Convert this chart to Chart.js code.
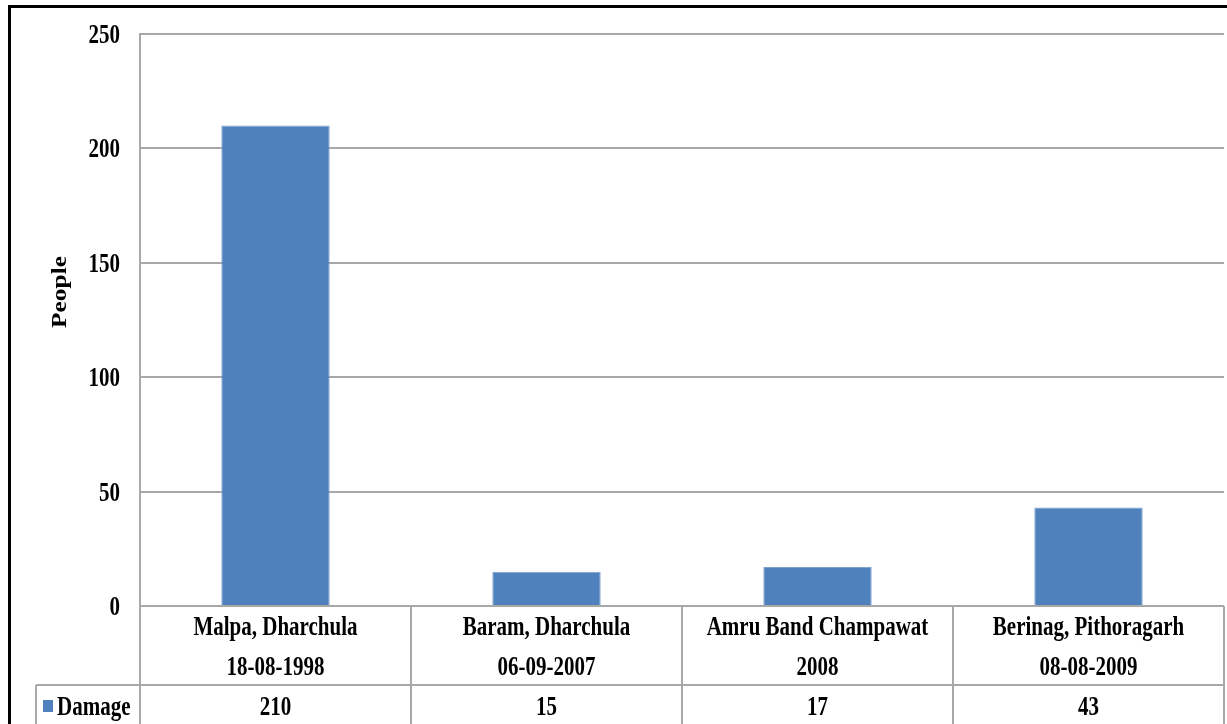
<!DOCTYPE html>
<html>
<head>
<meta charset="utf-8">
<script src="https://cdn.jsdelivr.net/npm/chart.js@4.4.0/dist/chart.umd.min.js"></script>
<style>
    body { margin: 0; background: #fff; }
    canvas { display: block; }
</style>
</head>
<body>
<canvas id="damageChart" width="1227" height="724"></canvas>
<script>
// Chart data
const places = ['Malpa, Dharchula', 'Baram, Dharchula', 'Amru Band Champawat', 'Berinag, Pithoragarh'];
const eventDates = ['18-08-1998', '06-09-2007', '2008', '08-08-2009'];
const damage = [210, 15, 17, 43];
const seriesName = 'Damage';
const axisTitle = 'People';
const yMax = 250;
const yStep = 50;

const BAR_COLOR = '#4F81BD';
const GRID_COLOR = '#a8a8a8';
const FONT = 'bold 21px "Liberation Serif", "Times New Roman", serif';
const STRETCH = 1.27; // the original picture is stretched vertically

// draw text squeezed the same way as the source image
function drawText(ctx, text, x, y, align) {
    ctx.save();
    ctx.translate(x, y);
    ctx.scale(1, STRETCH);
    ctx.textAlign = align;
    ctx.textBaseline = 'alphabetic';
    ctx.fillText(text, 0, 0);
    ctx.restore();
}

// Data table, axis labels and frame
const tablePlugin = {
    id: 'dataTable',
    afterDraw(chart) {
        const ctx = chart.ctx;
        const xScale = chart.scales.x;
        const yScale = chart.scales.y;
        const area = chart.chartArea;
        const rowSplit = 685;
        const bottom = chart.height;

        ctx.save();
        ctx.font = FONT;
        ctx.fillStyle = '#000';

        // y tick labels
        yScale.ticks.forEach(tick => {
            const y = yScale.getPixelForValue(tick.value);
            drawText(ctx, String(tick.value), 120, y + 9, 'right');
        });

        // y axis title
        ctx.save();
        ctx.translate(66, 292);
        ctx.scale(1, STRETCH);
        ctx.rotate(-Math.PI / 2);
        ctx.font = 'bold 20px "Liberation Serif", "Times New Roman", serif';
        ctx.textAlign = 'center';
        ctx.textBaseline = 'alphabetic';
        ctx.fillText(axisTitle, 0, 0);
        ctx.restore();

        // table grid
        ctx.strokeStyle = GRID_COLOR;
        ctx.lineWidth = 2;
        const step = xScale.getPixelForValue(1) - xScale.getPixelForValue(0);
        ctx.beginPath();
        for (let i = 0; i <= places.length; i++) {
            const x = xScale.getPixelForValue(i) - step / 2;
            ctx.moveTo(x, area.bottom);
            ctx.lineTo(x, bottom);
        }
        ctx.moveTo(36, rowSplit);
        ctx.lineTo(area.right, rowSplit);
        ctx.moveTo(36, rowSplit);
        ctx.lineTo(36, bottom);
        ctx.stroke();

        // category labels and values
        places.forEach((place, i) => {
            const x = xScale.getPixelForValue(i);
            drawText(ctx, place, x, 635, 'center');
            drawText(ctx, eventDates[i], x, 675, 'center');
            drawText(ctx, String(damage[i]), x, 715, 'center');
        });

        // legend key
        ctx.fillStyle = BAR_COLOR;
        ctx.fillRect(43, 700, 10, 12);
        ctx.fillStyle = '#000';
        drawText(ctx, seriesName, 57, 715, 'left');

        // outer frame
        ctx.fillRect(8, 5, 3, bottom - 5);
        ctx.fillRect(8, 5, chart.width - 8, 3);
        ctx.restore();
    }
};

const ctx = document.getElementById('damageChart').getContext('2d');
new Chart(ctx, {
    type: 'bar',
    data: {
        labels: places,
        datasets: [{
            label: seriesName,
            data: damage,
            backgroundColor: BAR_COLOR,
            borderColor: '#7ea2cf',
            borderWidth: 1,
            barPercentage: 0.4,
            categoryPercentage: 1
        }]
    },
    options: {
        responsive: false,
        animation: false,
        layout: {
            padding: { left: 0, top: 34, right: 3, bottom: 0 }
        },
        plugins: {
            legend: { display: false },
            tooltip: { enabled: false }
        },
        scales: {
            x: {
                grid: { display: false },
                border: { display: false },
                ticks: { display: false },
                afterFit(scale) { scale.height = 118; }
            },
            y: {
                min: 0,
                max: yMax,
                ticks: { display: false, stepSize: yStep },
                grid: { color: GRID_COLOR, lineWidth: 2, drawTicks: false },
                border: { display: true, color: GRID_COLOR, width: 2 },
                afterFit(scale) { scale.width = 140; }
            }
        }
    },
    plugins: [tablePlugin]
});
</script>
</body>
</html>
